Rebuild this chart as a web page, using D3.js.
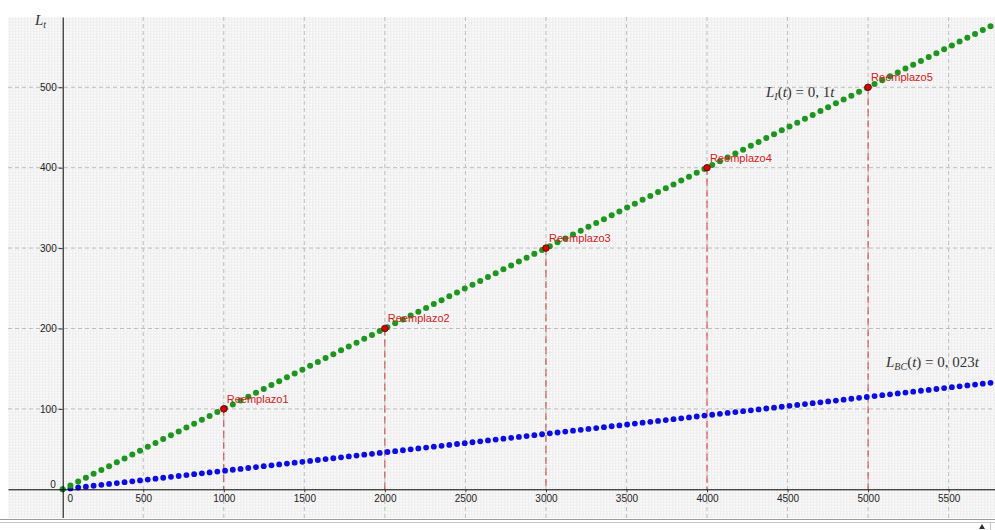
<!DOCTYPE html>
<html>
<head>
<meta charset="utf-8">
<script src="https://cdn.jsdelivr.net/npm/d3@7"></script>
<style>
  body { margin: 0; background: #fff; }
  svg { display: block; }
  .tick text { font-family: "Liberation Sans", Arial, sans-serif; font-size: 10px; fill: #222; }
</style>
</head>
<body>
<div id="chart"></div>
<script>
// sample points of both sequences (t values)
const tSamples = [0,48,96,144,192,240,288,336,384,432,480,528,576,624,672,720,768,816,864,912,
  960,1008,1056,1104,1152,1200,1248,1296,1344,1392,1440,1488,1536,1584,1632,1680,1728,1776,1824,1872,
  1920,1968,2016,2064,2112,2160,2208,2256,2304,2352,2400,2448,2496,2544,2592,2640,2688,2736,2784,2832,
  2880,2928,2976,3024,3072,3120,3168,3216,3264,3312,3360,3408,3456,3504,3552,3600,3648,3696,3744,3792,
  3840,3888,3936,3984,4032,4080,4128,4176,4224,4272,4320,4368,4416,4464,4512,4560,4608,4656,4704,4752,
  4800,4848,4896,4944,4992,5040,5088,5136,5184,5232,5280,5328,5376,5424,5472,5520,5568,5616,5664,5712,
  5760,5808];
// slopes
const slopeI = 0.1;     // L_I(t) = 0,1t
const slopeBC = 0.023;  // L_BC(t) = 0,023t

// replacement points
const replT = [1000, 2000, 3000, 4000, 5000];
const replL = [100, 200, 300, 400, 500];
const replNames = ["Reemplazo1", "Reemplazo2", "Reemplazo3", "Reemplazo4", "Reemplazo5"];

const xTicks = [0, 500, 1000, 1500, 2000, 2500, 3000, 3500, 4000, 4500, 5000, 5500];
const yTicks = [0, 100, 200, 300, 400, 500];

const W = 995, H = 530;
const plot = { left: 8, top: 17, right: 995, bottom: 518 };

const svg = d3.select("#chart").append("svg")
    .attr("width", W)
    .attr("height", H);

// canvas-like texture (subtle)
const defs = svg.append("defs");
const pat = defs.append("pattern")
    .attr("id", "paper")
    .attr("width", 3).attr("height", 3)
    .attr("patternUnits", "userSpaceOnUse");
pat.append("rect").attr("width", 3).attr("height", 3).attr("fill", "#f6f6f6");
pat.append("rect").attr("x", 0).attr("y", 0).attr("width", 1).attr("height", 3).attr("fill", "#eeeeee");
pat.append("rect").attr("x", 0).attr("y", 1).attr("width", 3).attr("height", 1).attr("fill", "#f0f0f0");
pat.append("rect").attr("x", 2).attr("y", 2).attr("width", 1).attr("height", 1).attr("fill", "#fdfdfd");

defs.append("clipPath").attr("id", "clip")
  .append("rect")
    .attr("x", plot.left).attr("y", plot.top)
    .attr("width", plot.right - plot.left)
    .attr("height", plot.bottom - plot.top);

svg.append("rect")
    .attr("x", plot.left).attr("y", plot.top)
    .attr("width", plot.right - plot.left)
    .attr("height", plot.bottom - plot.top)
    .attr("fill", "url(#paper)");

// scales (pixel positions of 0 and ticks)
const x = d3.scaleLinear().domain([-339.6, 5787.8]).range([plot.left, plot.right]);
const y = d3.scaleLinear().domain([-35.7, 587.4]).range([plot.bottom, plot.top]);

const g = svg.append("g").attr("clip-path", "url(#clip)");

// grid
g.selectAll(".vgrid")
  .data(xTicks.filter(d => d !== 0))
  .join("line")
    .attr("x1", d => x(d)).attr("x2", d => x(d))
    .attr("y1", plot.top).attr("y2", plot.bottom)
    .attr("stroke", "#bdbdbd")
    .attr("stroke-dasharray", "4,3")
    .attr("stroke-width", 1);

g.selectAll(".hgrid")
  .data(yTicks.filter(d => d !== 0))
  .join("line")
    .attr("x1", plot.left).attr("x2", plot.right)
    .attr("y1", d => y(d)).attr("y2", d => y(d))
    .attr("stroke", "#bdbdbd")
    .attr("stroke-dasharray", "4,3")
    .attr("stroke-width", 1);

// axes
const xAxis = d3.axisBottom(x)
    .tickValues(xTicks)
    .tickSize(3)
    .tickSizeOuter(0)
    .tickPadding(3)
    .tickFormat(d => d);

const xg = svg.append("g")
    .attr("transform", `translate(0,${y(0)})`)
    .call(xAxis);
xg.select(".domain").attr("stroke", "#000");
xg.selectAll(".tick line").attr("stroke", "#333");
xg.selectAll(".tick").filter(d => d === 0).select("text").attr("dx", 7);
xg.selectAll(".tick").filter(d => d === 0).select("line").remove();

const yAxis = d3.axisLeft(y)
    .tickValues(yTicks)
    .tickSize(4)
    .tickSizeOuter(0)
    .tickPadding(2)
    .tickFormat(d => d);

const yg = svg.append("g")
    .attr("transform", `translate(${x(0)},0)`)
    .call(yAxis);
yg.select(".domain").attr("stroke", "#000");
yg.selectAll(".tick line").attr("stroke", "#333");
yg.selectAll(".tick").filter(d => d === 0).select("text").attr("dy", "-0.2em").attr("dx", -1);
yg.selectAll(".tick").filter(d => d === 0).select("line").remove();

// replacement vertical dashed lines
g.selectAll(".drop")
  .data(replT)
  .join("line")
    .attr("x1", d => x(d)).attr("x2", d => x(d))
    .attr("y1", (d, i) => y(replL[i])).attr("y2", y(0))
    .attr("stroke", "#d43c3c")
    .attr("stroke-dasharray", "7,4")
    .attr("stroke-width", 1);

// blue sequence
g.selectAll(".bc")
  .data(tSamples)
  .join("circle")
    .attr("cx", d => x(d))
    .attr("cy", d => y(slopeBC * d))
    .attr("r", 2.9)
    .attr("fill", "#0a0af0");

// green sequence
g.selectAll(".li")
  .data(tSamples)
  .join("circle")
    .attr("cx", d => x(d))
    .attr("cy", d => y(slopeI * d))
    .attr("r", 3)
    .attr("fill", "#1c961c");

// replacement points
g.selectAll(".repl")
  .data(replT)
  .join("circle")
    .attr("cx", d => x(d))
    .attr("cy", (d, i) => y(replL[i]))
    .attr("r", 3.3)
    .attr("fill", "#d80000")
    .attr("stroke", "#5a0000")
    .attr("stroke-width", 0.8);

g.selectAll(".repl-label")
  .data(replT)
  .join("text")
    .attr("x", d => x(d) + 3)
    .attr("y", (d, i) => y(replL[i]) - 6)
    .attr("font-family", "Liberation Sans, Arial, sans-serif")
    .attr("font-size", 11)
    .attr("fill", "#d42020")
    .text((d, i) => replNames[i]);

// formula labels (LaTeX look)
const serif = "Liberation Serif, Times New Roman, serif";

function formula(xp, yp, sub, rest) {
  const t = svg.append("text")
      .attr("x", xp).attr("y", yp)
      .attr("font-family", serif)
      .attr("font-size", 15)
      .attr("fill", "#333");
  t.append("tspan").attr("font-style", "italic").text("L");
  t.append("tspan").attr("font-style", "italic").attr("font-size", 10).attr("dy", 3).text(sub);
  t.append("tspan").attr("dy", -3).text("(");
  t.append("tspan").attr("font-style", "italic").text("t");
  t.append("tspan").text(") = " + rest);
  t.append("tspan").attr("font-style", "italic").text("t");
  return t;
}

formula(766, 97, "I", "0, 1");
formula(886, 367, "BC", "0, 023");

// y axis name
const lt = svg.append("text")
    .attr("x", 35).attr("y", 25)
    .attr("font-family", serif)
    .attr("font-size", 15)
    .attr("fill", "#333");
lt.append("tspan").attr("font-style", "italic").text("L");
lt.append("tspan").attr("font-style", "italic").attr("font-size", 10).attr("dy", 3).text("t");

// bottom input bar
svg.append("rect")
    .attr("x", 0).attr("y", plot.bottom)
    .attr("width", W).attr("height", H - plot.bottom)
    .attr("fill", "#fff");
svg.append("line")
    .attr("x1", 0).attr("x2", W)
    .attr("y1", plot.bottom + 1.5).attr("y2", plot.bottom + 1.5)
    .attr("stroke", "#9a9a9a");
svg.append("line")
    .attr("x1", 0).attr("x2", W)
    .attr("y1", plot.bottom + 4.5).attr("y2", plot.bottom + 4.5)
    .attr("stroke", "#c4c4c4");
svg.append("line")
    .attr("x1", 990.5).attr("x2", 990.5)
    .attr("y1", plot.bottom + 5).attr("y2", H)
    .attr("stroke", "#c4c4c4");
svg.append("path")
    .attr("d", "M979,529 L982,524 L985,529 Z")
    .attr("fill", "#333");
</script>
</body>
</html>
